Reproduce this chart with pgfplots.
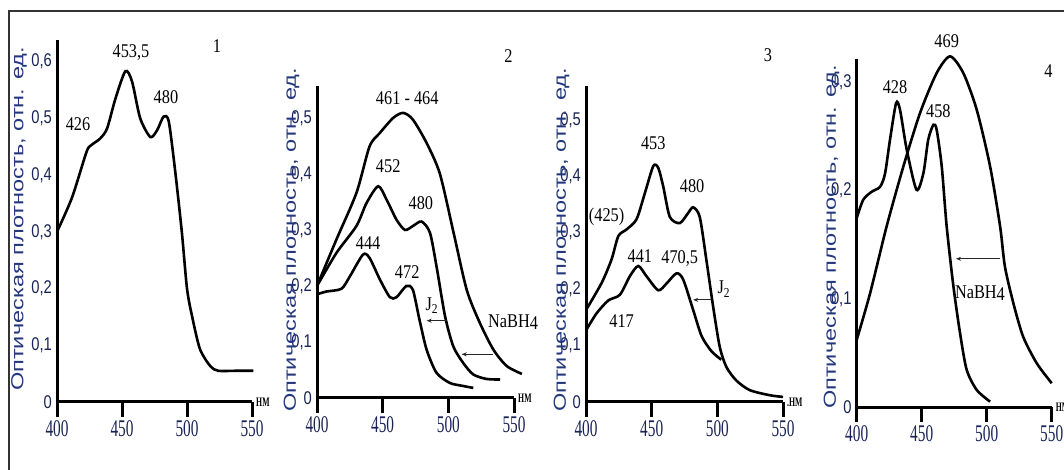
\documentclass[border=0pt]{standalone}
\usepackage{fontspec}
\usepackage{pgfplots}
\pgfplotsset{compat=1.18}
\usetikzlibrary{arrows.meta}
\setmainfont{Liberation Serif}
\newfontfamily\xtf[FakeStretch=0.64]{Liberation Serif}
\newfontfamily\ytf[FakeStretch=0.8]{Liberation Sans}
\newfontfamily\annf[FakeStretch=0.84]{Liberation Serif}
\newfontfamily\ylf[FakeStretch=1.35]{Liberation Sans}
\newfontfamily\nmf[FakeStretch=0.6]{Liberation Serif}
\definecolor{tickc}{RGB}{25,35,85}
\definecolor{labc}{RGB}{35,55,125}
\pgfkeys{/pgf/number format/.cd, use comma, fixed, precision=1, assume math mode=true}
\pgfplotsset{
  panel/.style={
    scale only axis,
    axis x line*=bottom, axis y line*=left,
    axis line style={line width=3bp, black},
    xmin=400, xmax=550, ymin=0,
    xtick={400,450,500,550},
    tick align=outside,
    major tick length=15bp,
    xtick style={line width=3bp, draw=black},
    ytick style={draw=none},
    xticklabel style={font=\fontsize{24}{24}\selectfont\xtf, text=tickc, /pgf/number format/assume math mode=true},
    yticklabel style={font=\fontsize{18.5}{18.5}\selectfont\ytf, text=tickc, inner sep=2bp, xshift=12bp, /pgf/number format/assume math mode=true},
    clip=false,
    cycle list={{black, solid}},
    no markers,
    every axis plot/.append style={line width=2.6bp, smooth, tension=0.45},
  },
}
\tikzset{
  ann/.style={font=\fontsize{19.5}{19.5}\selectfont\annf, inner sep=0pt, text=black},
  nm/.style={font=\fontsize{13}{13}\selectfont\nmf\bfseries, inner sep=0pt, anchor=west, xshift=4bp},
  arr/.style={-{Stealth[length=5bp,width=4bp]}, line width=0.9bp, black!85},
  xt/.style={line width=3bp, black},
}
\newcommand\xticks{\pgfplotsinvokeforeach{400,450,500,550}{\draw[xt] (axis cs:##1,0) -- ++(0bp,-15bp);}}
\begin{document}
\begin{tikzpicture}[x=1bp,y=1bp]
\path[use as bounding box] (0,0) rectangle (1064,470);
\draw[line width=1.5bp, black!80] (9,-10) -- (9,459) -- (1070,459);

% Panel 1
\begin{axis}[panel, at={(57bp,68bp)}, anchor=south west, width=195bp, height=362bp,
  ymax=0.638, ytick={0,0.1,0.2,0.3,0.4,0.5,0.6}]
\addplot coordinates {(400,0.300) (411.5,0.360) (422.6,0.440) (426,0.452) (433,0.464) (438.5,0.482) (445,0.535) (452.6,0.583) (457.7,0.565) (464,0.500) (471.8,0.467) (477,0.479) (482,0.503) (486,0.494) (491,0.405) (496,0.300) (500,0.200) (504,0.150) (510,0.093) (518,0.063) (524,0.055) (537,0.055) (551,0.055)};
\xticks
\node[ann] at (axis cs:416.2,0.489) {426};
\node[ann] at (axis cs:456.9,0.615) {453,5};
\node[ann] at (axis cs:483.8,0.538) {480};
\node[ann] at (axis cs:523.1,0.627) {1};
\node[nm] at (axis cs:550,0) {НМ};
\end{axis}

% Panel 2
\begin{axis}[panel, at={(317bp,72bp)}, anchor=south west, width=197bp, height=312bp,
  ymax=0.557, ytick={0,0.1,0.2,0.3,0.4,0.5}]
\addplot coordinates {(400,0.200) (414.8,0.283) (430,0.366) (440,0.449) (447.8,0.473) (458,0.500) (465.6,0.509) (473,0.497) (483.5,0.455) (493.6,0.400) (504,0.295) (514,0.193) (524,0.134) (534.4,0.086) (544.5,0.057) (556,0.043)};
\addplot coordinates {(400,0.200) (414.8,0.259) (430,0.307) (437.7,0.348) (446.6,0.378) (453,0.354) (460.6,0.318) (467,0.300) (473,0.307) (479.6,0.315) (486,0.295) (491,0.235) (497.5,0.146) (503.8,0.092) (511.5,0.062) (519,0.042) (529,0.034) (539.4,0.033)};
\addplot coordinates {(400,0.185) (407,0.190) (418.6,0.195) (425,0.217) (435,0.256) (440,0.250) (448,0.211) (455.5,0.180) (460.6,0.180) (468,0.200) (473,0.193) (478,0.140) (483.5,0.086) (491,0.045) (501,0.027) (510,0.022) (519,0.018)};
\xticks
\node[ann] at (axis cs:468.7,0.536) {461 - 464};
\node[ann] at (axis cs:454.2,0.414) {452};
\node[ann] at (axis cs:479.1,0.347) {480};
\node[ann] at (axis cs:438.9,0.277) {444};
\node[ann] at (axis cs:468.7,0.224) {472};
\node[ann] at (axis cs:545.8,0.610) {2};
\node[ann] at (axis cs:487.5,0.165) {J\textsubscript{2}};
\draw[arr] (axis cs:498.8,0.138) -- (axis cs:483.5,0.138);
\node[ann] at (axis cs:549.3,0.136) {NaBH\raisebox{-2bp}{4}};
\draw[arr] (axis cs:534.3,0.078) -- (axis cs:510.2,0.078);
\node[nm] at (axis cs:550,0) {НМ};
\end{axis}

% Panel 3
\begin{axis}[panel, at={(586bp,68bp)}, anchor=south west, width=197bp, height=316bp,
  ymax=0.56, ytick={0,0.1,0.2,0.3,0.4,0.5}]
\addplot coordinates {(400,0.163) (411.9,0.211) (419.5,0.253) (424.6,0.294) (431,0.306) (438.5,0.324) (444.8,0.370) (451.2,0.418) (455,0.415) (458.8,0.382) (463.8,0.328) (471.4,0.317) (477.8,0.335) (481.6,0.345) (486.6,0.328) (491.7,0.251) (496.8,0.169) (501.8,0.098) (506.9,0.062) (514.5,0.038) (524.7,0.021) (539.9,0.012) (550,0.009)};
\addplot coordinates {(400,0.127) (408,0.157) (417,0.180) (425.8,0.190) (433.4,0.223) (439.8,0.241) (446,0.223) (455,0.198) (461.3,0.210) (468.9,0.228) (474,0.217) (481.6,0.163) (488,0.117) (495.5,0.090) (503,0.075)};
\xticks
\node[ann] at (axis cs:451.2,0.459) {453};
\node[ann] at (axis cs:480.8,0.382) {480};
\node[ann] at (axis cs:415.7,0.328) {(425)};
\node[ann] at (axis cs:441,0.258) {441};
\node[ann] at (axis cs:471.4,0.255) {470,5};
\node[ann] at (axis cs:427.1,0.143) {417};
\node[ann] at (axis cs:538.6,0.615) {3};
\node[ann] at (axis cs:505,0.200) {J\textsubscript{2}};
\draw[arr] (axis cs:495.5,0.181) -- (axis cs:481.6,0.181);
\node[nm] at (axis cs:550,0) {.НМ};
\end{axis}

% Panel 4
\begin{axis}[panel, at={(856.7bp,62.7bp)}, anchor=south west, width=195bp, height=348bp,
  ymax=0.321, ytick={0,0.1,0.2,0.3}]
\addplot coordinates {(400,0.1745) (405,0.1914) (411.5,0.1988) (418,0.2034) (421.8,0.2157) (425.6,0.2468) (430.3,0.2806) (433.3,0.2745) (438.5,0.2375) (446,0.2006) (451.3,0.2160) (455,0.2468) (459,0.2606) (461.5,0.2560) (465.4,0.2222) (469.2,0.1668) (474.4,0.1114) (479.5,0.0683) (484.6,0.0345) (492.3,0.0160) (502.6,0.0052)};
\addplot coordinates {(400,0.0622) (410.3,0.1052) (423,0.1668) (435.9,0.2222) (448.7,0.2714) (461.5,0.3083) (471.8,0.3237) (482,0.3083) (492.3,0.2745) (502.6,0.2222) (510.3,0.1668) (514,0.1298) (520.5,0.0960) (528,0.0652) (538.5,0.0406) (550,0.0222)};
\xticks
\node[ann] at (axis cs:469.2,0.3375) {469};
\node[ann] at (axis cs:429.5,0.295) {428};
\node[ann] at (axis cs:462.8,0.273) {458};
\node[ann] at (axis cs:547.4,0.310) {4};
\draw[arr] (axis cs:510.3,0.137) -- (axis cs:476.4,0.137);
\node[ann] at (axis cs:494.8,0.105) {NaBH\raisebox{-2bp}{4}};
\node[nm] at (axis cs:550,0) {НМ};
\end{axis}

% y axis labels
\foreach \px/\py in {19/251, 291.5/230, 561.6/230, 831.6/233}{
  \node[rotate=90, font=\fontsize{17.5}{17.5}\selectfont\ylf, text=labc, inner sep=0pt] at (\px,\py) {Оптическая плотность, отн. ед.};
}
\end{tikzpicture}
\end{document}
